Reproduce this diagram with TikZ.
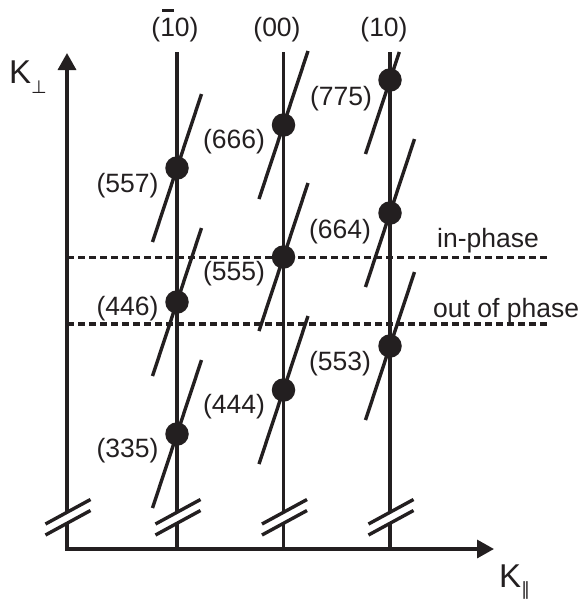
\documentclass[tikz,border=0pt]{standalone}
\usepackage{fontspec}
\setmainfont{Liberation Sans}
\newfontfamily\symf{DejaVu Sans}
\usetikzlibrary{arrows.meta,calc}
\definecolor{ink}{RGB}{35,31,32}
\begin{document}
\begin{tikzpicture}[x=1pt,y=-1pt,
  ink/.style={draw=ink,line width=3.4pt},
  dotnode/.style={circle,fill=ink,inner sep=0pt,minimum size=23.5pt},
  lbl/.style={font=\fontsize{26.5}{30}\selectfont,text=ink,inner sep=0pt,anchor=base},
  phase/.style={draw=ink,line width=3.8pt,dash pattern=on 7.3pt off 3.7pt},
  tip/.style={-{Triangle[length=17pt,width=18pt]}}
]
\useasboundingbox (0,0) rectangle (581,600);

% axes
\coordinate (o) at (67,549);
\coordinate (ytip) at (67,53);
\coordinate (xtip) at (494,549);
\coordinate (uy) at (67,512);
\coordinate (ly) at (67,523);
\draw[ink,tip] (uy) -- (ytip);
\draw[ink,tip] (ly) -- (o) -- (xtip);

% rods
\foreach \n/\x in {A/177,B/283.5,C/390}{
  \coordinate (t\n) at (\x,52);
  \coordinate (u\n) at (\x,512);
  \coordinate (l\n) at (\x,523);
  \coordinate (b\n) at (\x,549);
  \draw[ink] (t\n) -- (u\n);
  \draw[ink] (l\n) -- (b\n);
}
% break marks
\foreach \n in {y,A,B,C}{
  \draw[ink] ($(u\n)+(-21.5,12)$) -- ($(u\n)+(23.5,-12.5)$);
  \draw[ink] ($(l\n)+(-21.5,12)$) -- ($(l\n)+(23.5,-12.5)$);
}

% phase lines
\coordinate (pin0) at (67,257.5);
\coordinate (pin1) at (547,257.5);
\coordinate (pout0) at (67,324);
\coordinate (pout1) at (547,324);
\draw[phase] (pin0) -- (pin1);
\draw[phase] (pout0) -- (pout1);

% slanted segments and dots
\foreach \nm/\x/\y in {557/177/168,446/177/302,335/177/434,
                        666/283.5/125,555/283.5/257,444/283.5/390,
                        664/390/213,553/390/346}{
  \coordinate (c\nm) at (\x,\y);
  \draw[ink] ($(c\nm)+(-24.5,74)$) -- ($(c\nm)+(24.5,-74)$);
  \node[dotnode] (d\nm) at (c\nm) {};
}
\coordinate (c775) at (390,80);
\draw[ink] ($(c775)+(-24.5,74)$) -- ($(c775)+(9.3,-28)$);
\node[dotnode] (d775) at (c775) {};

% reflection labels
\node[lbl] (l557) at (127.5,192) {(557)};
\node[lbl] (l446) at (127.5,315) {(446)};
\node[lbl] (l335) at (127.5,457) {(335)};
\node[lbl] (l666) at (234,148) {(666)};
\node[lbl] (l555) at (234,280) {(555)};
\node[lbl] (l444) at (234,413) {(444)};
\node[lbl] (l775) at (341,105) {(775)};
\node[lbl] (l664) at (340,238) {(664)};
\node[lbl] (l553) at (340,370) {(553)};

% rod labels
\node[lbl] (hA) at (175,36) {(\makebox[0pt][l]{\hspace{2pt}\raisebox{24.5pt}{\rule{12pt}{2.8pt}}}10)};
\node[lbl] (hB) at (277,36) {(00)};
\node[lbl] (hC) at (384,36) {(10)};

% phase labels
\node[lbl,anchor=base west] (tin) at (437,247) {in-phase};
\node[lbl,anchor=base west] (tout) at (433,317) {out of phase};

% axis labels
\node[anchor=base west,inner sep=0pt,text=ink] (kperp) at (9,83)
  {{\fontsize{33}{36}\selectfont K}\raisebox{-10pt}{\symf\fontsize{18}{20}\selectfont ⊥}};
\node[anchor=base west,inner sep=0pt,text=ink] (kpar) at (499,587)
  {{\fontsize{33}{36}\selectfont K}\raisebox{-8pt}{\symf\fontsize{18}{20}\selectfont ∥}};
\end{tikzpicture}
\end{document}
